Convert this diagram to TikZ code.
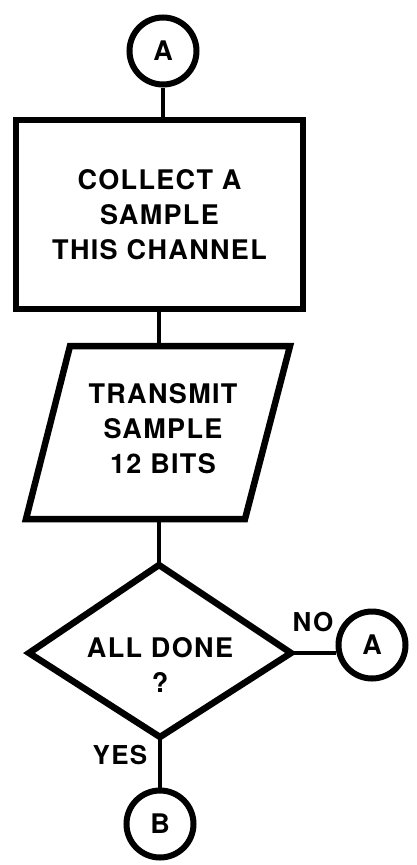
\documentclass[tikz,border=0pt]{standalone}
\usepackage{fontspec}
\setmainfont{TeX Gyre Heros}[LetterSpace=5]
\begin{document}
\begin{tikzpicture}[x=1pt,y=-1pt,
  conn/.style={line width=3.5pt},
  outline/.style={draw,line width=6.5pt,line join=miter},
  lbl/.style={font=\fontsize{27}{35}\selectfont\bfseries,align=center,inner sep=0pt},
  small/.style={font=\fontsize{26}{30}\selectfont\bfseries,inner sep=0pt},
  conncirc/.style={circle,draw,line width=6pt,minimum size=67pt,inner sep=0pt,font=\fontsize{27}{30}\selectfont\bfseries}]
\useasboundingbox (0,0) rectangle (417,865);
% top connector
\node[conncirc] (A1) at (163,51) {A};
% process box
\node[outline,rectangle,minimum width=287pt,minimum height=189pt,lbl] (R) at (159.5,214.5) {COLLECT A\\SAMPLE\\THIS CHANNEL};
% parallelogram
\coordinate (P1) at (70,346);
\coordinate (P2) at (290,346);
\coordinate (P3) at (245,519);
\coordinate (P4) at (26,519);
\coordinate (Ptop) at (159,346);
\coordinate (Pbot) at (159,519);
\draw[outline] (P1)--(P2)--(P3)--(P4)--cycle;
\node[lbl] (T) at (163,429) {TRANSMIT\\SAMPLE\\12 BITS};
% decision diamond
\coordinate (Dt) at (159,565);
\coordinate (Dl) at (29,653);
\coordinate (Dr) at (291,653);
\coordinate (Db) at (160,737);
\draw[outline] (Dt)--(Dr)--(Db)--(Dl)--cycle;
\node[lbl] (D) at (160,665) {ALL DONE\\?};
% off connectors
\node[conncirc] (A2) at (372,645) {A};
\node[conncirc] (B) at (160,824) {B};
% labels
\node[small] (no) at (313,622) {NO};
\node[small] (yes) at (120,755) {YES};
% connectors
\draw[conn] (A1.south) -- (A1.south |- R.north);
\draw[conn] (Ptop |- R.south) -- (Ptop);
\draw[conn] (Pbot) -- (Dt);
\draw[conn] (Dr) -- (Dr -| A2.west);
\draw[conn] (Db) -- (B.north);
\end{tikzpicture}
\end{document}
